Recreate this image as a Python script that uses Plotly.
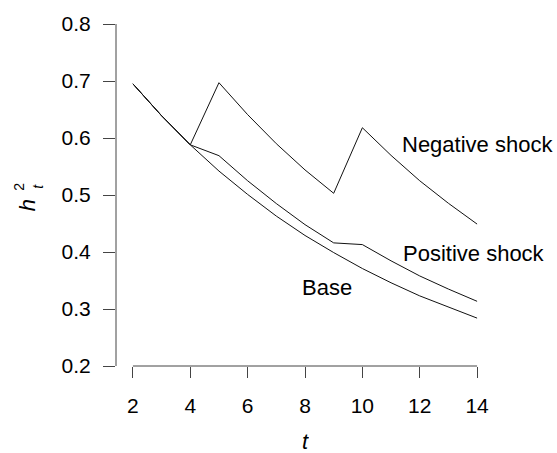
import plotly.graph_objects as go

# Conditional variance paths h_t^2 over time t
t = [2, 3, 4, 5, 6, 7, 8, 9, 10, 11, 12, 13, 14]
base = [0.695, 0.639, 0.588, 0.542, 0.501, 0.463, 0.429, 0.399, 0.371, 0.346, 0.323, 0.303, 0.284]
positive_shock = [0.695, 0.639, 0.588, 0.569, 0.525, 0.485, 0.448, 0.416, 0.413, 0.3845, 0.358, 0.335, 0.3135]
negative_shock = [0.695, 0.639, 0.588, 0.697, 0.641, 0.590, 0.544, 0.503, 0.618, 0.5695, 0.525, 0.4855, 0.449]

x_ticks = [2, 4, 6, 8, 10, 12, 14]
y_ticks = [0.2, 0.3, 0.4, 0.5, 0.6, 0.7, 0.8]

# Line labels: (text, t, value)
labels = [
    ("Negative shock", 14.0, 0.588),
    ("Positive shock", 13.9, 0.397),
    ("Base", 8.77, 0.338),
]

FONT = "Liberation Sans, Arial, Helvetica, sans-serif"
INK = "#111111"
AXIS = "#444444"

fig = go.Figure()
for series in (base, positive_shock, negative_shock):
    fig.add_trace(go.Scatter(
        x=t, y=series, mode="lines",
        line=dict(color=INK, width=1),
        showlegend=False, hoverinfo="skip",
    ))

for text, tx, ty in labels:
    fig.add_annotation(x=tx, y=ty, text=text, showarrow=False,
                       xanchor="center", yanchor="middle",
                       font=dict(family=FONT, size=22, color="#000"))

# Axis lines spanning only the tick range
fig.add_shape(type="line", xref="x", yref="paper", x0=x_ticks[0], x1=x_ticks[-1],
              y0=0, y1=0, line=dict(color=AXIS, width=1))
fig.add_shape(type="line", xref="paper", yref="y", x0=0, x1=0,
              y0=y_ticks[0], y1=y_ticks[-1], line=dict(color=AXIS, width=1))

# Axis titles
fig.add_annotation(xref="paper", yref="paper", x=0.5, y=0, yshift=-75,
                   text="<i>t</i>", showarrow=False, xanchor="center", yanchor="middle",
                   height=20,
                   font=dict(family=FONT, size=22, color="#000"))
fig.add_annotation(xref="paper", yref="paper", x=0, y=0.47, xshift=-89,
                   text="<i>h</i>", showarrow=False, textangle=-90,
                   xanchor="center", yanchor="middle",
                   font=dict(family=FONT, size=22, color="#000"))
fig.add_annotation(xref="paper", yref="paper", x=0, y=0.524, xshift=-97,
                   text="2", showarrow=False, textangle=-90,
                   xanchor="center", yanchor="middle",
                   font=dict(family=FONT, size=14, color="#000"))
fig.add_annotation(xref="paper", yref="paper", x=0, y=0.524, xshift=-78,
                   text="<i>t</i>", showarrow=False, textangle=-90,
                   xanchor="center", yanchor="middle",
                   font=dict(family=FONT, size=14, color="#000"))

fig.update_xaxes(
    range=[1.41, 14.59], tickvals=x_ticks, ticktext=[str(v) for v in x_ticks],
    ticks="outside", ticklen=11, tickcolor=AXIS, tickwidth=1,
    showline=False, showgrid=False, zeroline=False,
    tickfont=dict(family=FONT, size=21, color="#000"), ticklabelstandoff=10,
)
fig.update_yaxes(
    range=[0.2, 0.8], tickvals=y_ticks, ticktext=[f"{v:.1f}" for v in y_ticks],
    ticks="outside", ticklen=12, tickcolor=AXIS, tickwidth=1,
    showline=False, showgrid=False, zeroline=False,
    tickfont=dict(family=FONT, size=21, color="#000"), ticklabelstandoff=8,
)
fig.update_layout(
    width=557, height=453,
    margin=dict(l=116, r=63, t=21, b=87),
    plot_bgcolor="white", paper_bgcolor="white",
)
fig.write_html("out.html")
